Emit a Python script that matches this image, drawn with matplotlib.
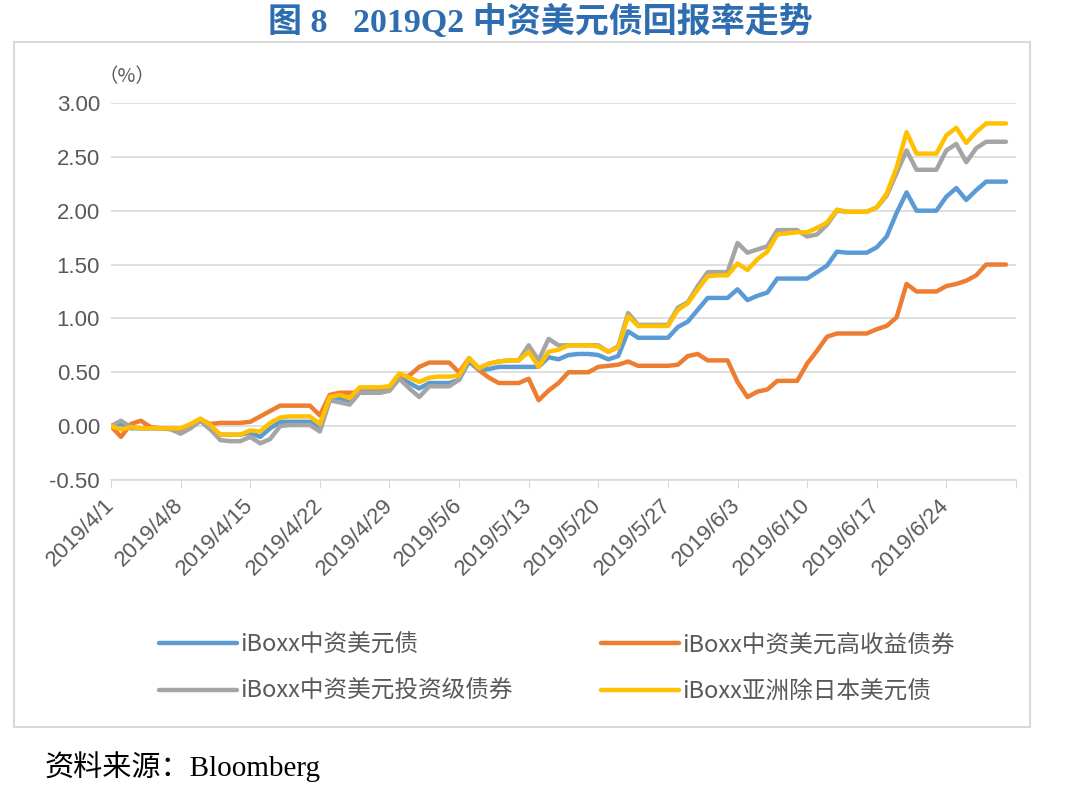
import matplotlib
matplotlib.use("Agg")
import matplotlib.pyplot as plt
import pandas as pd
from matplotlib.patches import Rectangle

CJK = "Noto Sans CJK SC"
TXT = "#595959"

# daily values 2019/4/1 .. 2019/6/30 (weekends carried flat), in %
dates = pd.date_range("2019-04-01", "2019-06-30", freq="D")

china_usd = [
    0.00, 0.02, -0.02, -0.02, -0.02, -0.02, -0.02, -0.03, 0.00, 0.05,
    -0.03, -0.08, -0.08, -0.08, -0.06, -0.10, -0.02, 0.04, 0.04, 0.04,
    0.04, -0.01, 0.25, 0.26, 0.23, 0.34, 0.34, 0.34, 0.35, 0.45,
    0.40, 0.35, 0.40, 0.40, 0.40, 0.43, 0.60, 0.52, 0.53, 0.55,
    0.55, 0.55, 0.55, 0.55, 0.64, 0.62, 0.66, 0.67, 0.67, 0.66,
    0.62, 0.65, 0.88, 0.82, 0.82, 0.82, 0.82, 0.92, 0.97, 1.08,
    1.19, 1.19, 1.19, 1.27, 1.17, 1.21, 1.24, 1.37, 1.37, 1.37,
    1.37, 1.43, 1.49, 1.62, 1.61, 1.61, 1.61, 1.66, 1.76, 1.98,
    2.17, 2.00, 2.00, 2.00, 2.13, 2.21, 2.10, 2.19, 2.27, 2.27,
    2.27,
]
china_hy = [
    0.00, -0.10, 0.02, 0.05, -0.01, -0.02, -0.02, -0.03, 0.00, 0.06,
    0.02, 0.03, 0.03, 0.03, 0.04, 0.09, 0.14, 0.19, 0.19, 0.19,
    0.19, 0.10, 0.29, 0.31, 0.31, 0.31, 0.31, 0.31, 0.33, 0.45,
    0.47, 0.55, 0.59, 0.59, 0.59, 0.50, 0.63, 0.52, 0.45, 0.40,
    0.40, 0.40, 0.44, 0.24, 0.33, 0.40, 0.50, 0.50, 0.50, 0.55,
    0.56, 0.57, 0.60, 0.56, 0.56, 0.56, 0.56, 0.57, 0.65, 0.67,
    0.61, 0.61, 0.61, 0.41, 0.27, 0.32, 0.34, 0.42, 0.42, 0.42,
    0.58, 0.70, 0.83, 0.86, 0.86, 0.86, 0.86, 0.90, 0.93, 1.01,
    1.32, 1.25, 1.25, 1.25, 1.30, 1.32, 1.35, 1.40, 1.50, 1.50,
    1.50,
]
china_ig = [
    0.00, 0.05, -0.01, -0.02, -0.02, -0.02, -0.03, -0.07, -0.02, 0.05,
    -0.03, -0.13, -0.14, -0.14, -0.10, -0.16, -0.12, 0.00, 0.01, 0.01,
    0.01, -0.05, 0.24, 0.22, 0.20, 0.31, 0.31, 0.31, 0.33, 0.44,
    0.35, 0.27, 0.37, 0.37, 0.37, 0.43, 0.63, 0.53, 0.58, 0.60,
    0.61, 0.61, 0.75, 0.61, 0.81, 0.75, 0.75, 0.75, 0.75, 0.75,
    0.69, 0.74, 1.05, 0.94, 0.94, 0.94, 0.94, 1.10, 1.15, 1.30,
    1.43, 1.43, 1.43, 1.70, 1.61, 1.64, 1.67, 1.82, 1.82, 1.82,
    1.76, 1.78, 1.87, 2.00, 1.99, 1.99, 1.99, 2.03, 2.14, 2.35,
    2.56, 2.38, 2.38, 2.38, 2.56, 2.62, 2.45, 2.58, 2.64, 2.64,
    2.64,
]
asia_xjp = [
    0.00, -0.03, -0.01, -0.02, -0.02, -0.02, -0.02, -0.02, 0.02, 0.07,
    0.01, -0.08, -0.08, -0.08, -0.04, -0.05, 0.03, 0.08, 0.09, 0.09,
    0.09, 0.02, 0.27, 0.29, 0.26, 0.36, 0.36, 0.36, 0.37, 0.49,
    0.45, 0.41, 0.45, 0.46, 0.46, 0.47, 0.63, 0.54, 0.58, 0.60,
    0.61, 0.61, 0.69, 0.55, 0.69, 0.71, 0.75, 0.75, 0.75, 0.74,
    0.69, 0.73, 1.02, 0.93, 0.93, 0.93, 0.93, 1.08, 1.14, 1.27,
    1.39, 1.40, 1.40, 1.51, 1.45, 1.55, 1.62, 1.78, 1.79, 1.80,
    1.80, 1.84, 1.89, 2.01, 1.99, 1.99, 1.99, 2.03, 2.16, 2.40,
    2.73, 2.53, 2.53, 2.53, 2.70, 2.77, 2.63, 2.73, 2.81, 2.81,
    2.81,
]

series = [
    ("iBoxx中资美元债", china_usd, "#5B9BD5"),
    ("iBoxx中资美元高收益债券", china_hy, "#ED7D31"),
    ("iBoxx中资美元投资级债券", china_ig, "#A5A5A5"),
    ("iBoxx亚洲除日本美元债", asia_xjp, "#FFC000"),
]

yticks = [-0.5, 0.0, 0.5, 1.0, 1.5, 2.0, 2.5, 3.0]
xticks = pd.date_range("2019-04-01", "2019-07-01", freq="7D")

fig = plt.figure(figsize=(10.8, 7.91), dpi=100)
ax = fig.add_axes([0.1028, 0.3932, 0.8379, 0.4766])

lines = []
for name, vals, col in series:
    ln, = ax.plot(dates, vals, color=col, lw=3.2, label=name,
                  solid_joinstyle="round", solid_capstyle="round")
    lines.append(ln)

ax.set_ylim(-0.5, 3.0)
ax.set_xlim(pd.Timestamp("2019-04-01"), pd.Timestamp("2019-07-01"))
ax.set_yticks(yticks)
ax.set_yticklabels([f"{v:.2f}" for v in yticks], family="Liberation Sans",
                   fontsize=16, color=TXT)
ax.set_xticks(xticks)
ax.set_xticklabels([f"{d.year}/{d.month}/{d.day}" if d.month < 7 else ""
                    for d in xticks],
                   rotation=45, ha="right", va="center",
                   rotation_mode="anchor", family="Liberation Sans",
                   fontsize=16, color=TXT)
ax.grid(axis="y", color="#D9D9D9", lw=1.2)
ax.set_axisbelow(True)
for s in ["top", "right", "left"]:
    ax.spines[s].set_visible(False)
ax.spines["bottom"].set_color("#D9D9D9")
ax.spines["bottom"].set_linewidth(1.2)
ax.tick_params(axis="y", length=0, pad=8)
ax.tick_params(axis="x", length=6, color="#D9D9D9", pad=10)

fig.text(127 / 1080, 1 - 77 / 791, "（%）", family=CJK, fontsize=14,
         color=TXT, ha="center", va="center")

# legend is filled row by row in the reference: blue, orange / gray, yellow
order = [0, 2, 1, 3]
fig.legend([lines[i] for i in order], [series[i][0] for i in order],
           loc="upper left", bbox_to_anchor=(138 / 1080, 1 - 612 / 791),
           ncol=2, frameon=False, prop={"family": CJK, "size": 17},
           labelcolor=TXT, handlelength=3.3, handletextpad=0.12,
           columnspacing=3.75, labelspacing=1.0)

fig.add_artist(Rectangle((14 / 1080, 1 - 727 / 791), 1016 / 1080, 685 / 791,
                         transform=fig.transFigure, fill=False,
                         edgecolor="#D9D9D9", lw=1.5))

fig.text(0.5, 1 - 22 / 791, "图 8   2019Q2 中资美元债回报率走势",
         family=["Liberation Serif", CJK], fontsize=24.5, fontweight="bold",
         color="#2E6DB0", ha="center", va="center")
fig.text(45 / 1080, 1 - 767 / 791, "资料来源：Bloomberg",
         family=["Liberation Serif", CJK], fontsize=21, color="black",
         ha="left", va="center")

fig.savefig("out.png", dpi=100)
